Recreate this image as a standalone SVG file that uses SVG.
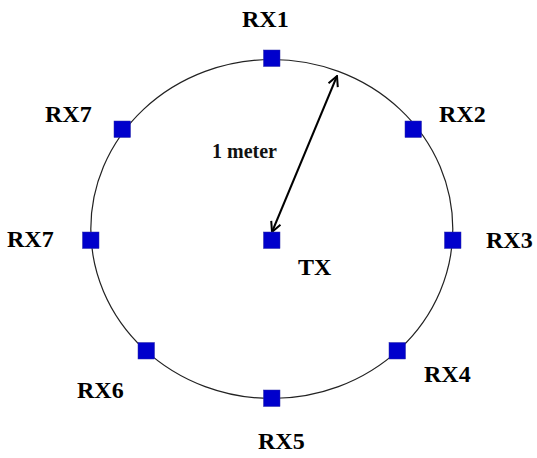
<svg xmlns="http://www.w3.org/2000/svg" width="537" height="458" viewBox="0 0 537 458">
<defs>
<style>
.lbl{font-family:"Liberation Serif","Times New Roman",serif;font-weight:bold;font-size:24px;fill:#000}
.sq{fill:#0000cc;stroke:#2a2aa8;stroke-width:0.5}
.ring{fill:none;stroke:#222;stroke-width:1.2}
.dim{font-family:"Liberation Serif","Times New Roman",serif;font-weight:bold;font-size:20px;fill:#111}
</style>
<marker id="ah" viewBox="0 0 12 12" refX="11" refY="6" markerWidth="12" markerHeight="12" markerUnits="userSpaceOnUse" orient="auto-start-reverse">
<path d="M1,1 L11,6 L1,11" fill="none" stroke="#000" stroke-width="2"/>
</marker>
</defs>
<rect width="537" height="458" fill="#fff"/>
<g id="ring"><ellipse class="ring" cx="271.8" cy="229" rx="181" ry="169.5"/></g>
<g id="connectors">
<line x1="272" y1="232" x2="337" y2="76" stroke="#000" stroke-width="2" marker-start="url(#ah)" marker-end="url(#ah)"/>
<text class="dim" x="212" y="158">1 meter</text>
</g>
<g id="TX"><rect class="sq" x="263.5" y="232" width="16.5" height="16.5"/><text class="lbl" x="298" y="275">TX</text></g>
<g id="RX1"><rect class="sq" x="263.5" y="50" width="16.5" height="16.5"/><text class="lbl" x="242" y="27">RX1</text></g>
<g id="RX2"><rect class="sq" x="405" y="121" width="16.5" height="16.5"/><text class="lbl" x="439" y="122">RX2</text></g>
<g id="RX3"><rect class="sq" x="444.5" y="232" width="16.5" height="16.5"/><text class="lbl" x="486" y="248">RX3</text></g>
<g id="RX4"><rect class="sq" x="389" y="342.5" width="16.5" height="16.5"/><text class="lbl" x="424" y="382">RX4</text></g>
<g id="RX5"><rect class="sq" x="263.5" y="390" width="16.5" height="16.5"/><text class="lbl" x="258" y="449">RX5</text></g>
<g id="RX6"><rect class="sq" x="138" y="342.5" width="16.5" height="16.5"/><text class="lbl" x="77" y="398">RX6</text></g>
<g id="RX7a"><rect class="sq" x="82.5" y="232" width="16.5" height="16.5"/><text class="lbl" x="7" y="247">RX7</text></g>
<g id="RX7b"><rect class="sq" x="114" y="121" width="16.5" height="16.5"/><text class="lbl" x="45" y="122">RX7</text></g>
</svg>
